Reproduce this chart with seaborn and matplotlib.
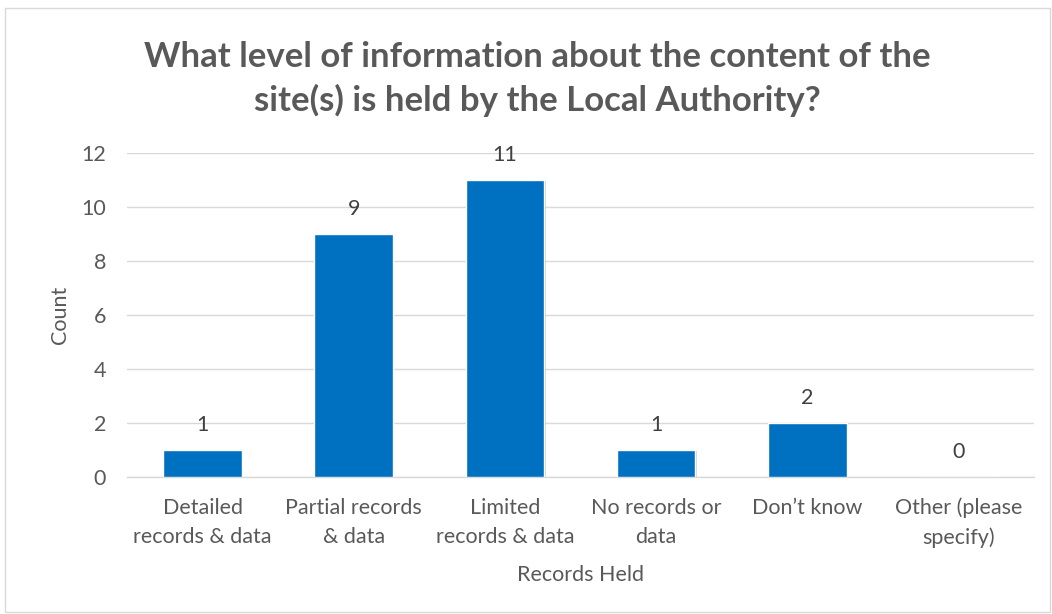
import matplotlib
matplotlib.use("Agg")
import matplotlib.pyplot as plt
import matplotlib.patheffects as pe
import seaborn as sns
import pandas as pd
from matplotlib.patches import Rectangle

categories = [
    "Detailed\nrecords & data",
    "Partial records\n& data",
    "Limited\nrecords & data",
    "No records or\ndata",
    "Don\u2019t know",
    "Other (please\nspecify)",
]
counts = [1, 9, 11, 1, 2, 0]
y_ticks = [0, 2, 4, 6, 8, 10, 12]

title = "What level of information about the content of the\nsite(s) is held by the Local Authority?"
x_label = "Records Held"
y_label = "Count"

sns.set_theme(style="white")
plt.rcParams["font.family"] = ["Lato", "DejaVu Sans"]

df = pd.DataFrame({"category": categories, "count": counts})

fig = plt.figure(figsize=(10.52, 6.14), dpi=100)
ax = fig.add_axes([0.1207, 0.2231, 0.8622, 0.5277])

# chart border
fig.patches.append(Rectangle((0.005, 0.003), 0.993, 0.984, transform=fig.transFigure,
                             fill=False, edgecolor="#D9D9D9", linewidth=1.0))

sns.barplot(data=df, x="category", y="count", color="#0070C0", width=0.52,
            saturation=1, ax=ax, zorder=3)

# soft shadow under the bars
for bar in ax.patches:
    bar.set_path_effects([pe.SimplePatchShadow(offset=(1, -1), shadow_rgbFace="#7F7F7F",
                                               alpha=0.35), pe.Normal()])

ax.set_ylim(0, 12)
ax.set_yticks(y_ticks)
ax.yaxis.grid(True, color="#D9D9D9", linewidth=1.0, zorder=0)
ax.set_axisbelow(True)
for side in ["top", "right", "left"]:
    ax.spines[side].set_visible(False)
ax.spines["bottom"].set_color("#D9D9D9")
ax.spines["bottom"].set_linewidth(1.0)

ax.tick_params(axis="both", length=0, colors="#595959", labelsize=15.5)
ax.tick_params(axis="y", pad=15)
ax.tick_params(axis="x", pad=15)
for lbl in ax.get_xticklabels():
    lbl.set_linespacing(1.55)

ax.set_xlabel(x_label, fontsize=15.5, color="#595959", labelpad=12)
ax.set_ylabel(y_label, fontsize=15.5, color="#595959", labelpad=8)

for container in ax.containers:
    ax.bar_label(container, labels=[str(v) for v in counts], padding=11,
                 fontsize=15.5, color="#404040")

fig.text(0.511, 0.871, title, ha="center", va="center", fontsize=25,
         fontweight="bold", color="#595959", linespacing=1.38)

fig.savefig("out.png", dpi=100, facecolor="white")
